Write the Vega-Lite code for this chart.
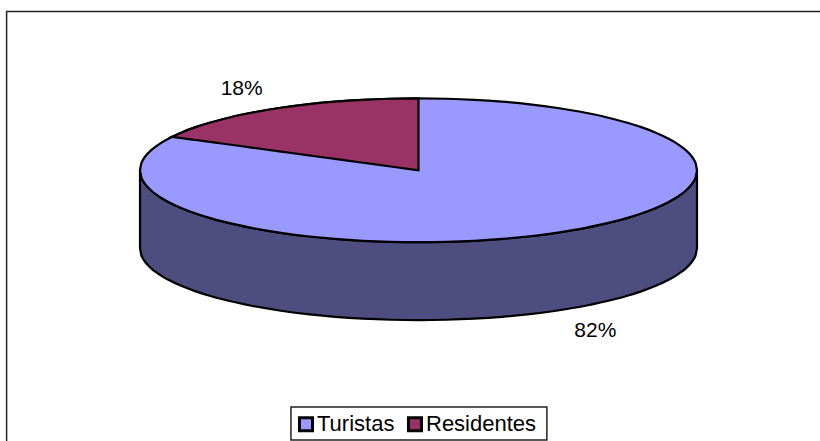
{"$schema":"https://vega.github.io/schema/vega-lite/v6.json","width":820,"height":441,"autosize":{"type":"fit","contains":"padding"},"padding":0,"background":"white","view":{"stroke":null},
"config":{"legend":{"symbolStrokeWidth":3,"symbolStrokeColor":"black"}},
"datasets":{
"frame":[{"x":-147.9,"x2":160,"y":220.8,"y2":-420},{"x":-45.8,"x2":46.1,"y":-329.2,"y2":-375}],
"side":[{"x":-100,"y":0,"y2":-108.3},{"x":-99.5,"y":-10,"y2":-118.3},{"x":-99,"y":-14.1,"y2":-122.4},{"x":-98,"y":-19.9,"y2":-128.2},{"x":-96,"y":-28,"y2":-136.3},{"x":-94,"y":-34.1,"y2":-142.4},{"x":-92,"y":-39.2,"y2":-147.5},{"x":-90,"y":-43.6,"y2":-151.9},{"x":-85,"y":-52.7,"y2":-161},{"x":-80,"y":-60,"y2":-168.3},{"x":-75,"y":-66.1,"y2":-174.4},{"x":-70,"y":-71.4,"y2":-179.7},{"x":-60,"y":-80,"y2":-188.3},{"x":-50,"y":-86.6,"y2":-194.9},{"x":-40,"y":-91.7,"y2":-200},{"x":-30,"y":-95.4,"y2":-203.7},{"x":-20,"y":-98,"y2":-206.3},{"x":-10,"y":-99.5,"y2":-207.8},{"x":0,"y":-100,"y2":-208.3},{"x":10,"y":-99.5,"y2":-207.8},{"x":20,"y":-98,"y2":-206.3},{"x":30,"y":-95.4,"y2":-203.7},{"x":40,"y":-91.7,"y2":-200},{"x":50,"y":-86.6,"y2":-194.9},{"x":60,"y":-80,"y2":-188.3},{"x":70,"y":-71.4,"y2":-179.7},{"x":75,"y":-66.1,"y2":-174.4},{"x":80,"y":-60,"y2":-168.3},{"x":85,"y":-52.7,"y2":-161},{"x":90,"y":-43.6,"y2":-151.9},{"x":92,"y":-39.2,"y2":-147.5},{"x":94,"y":-34.1,"y2":-142.4},{"x":96,"y":-28,"y2":-136.3},{"x":98,"y":-19.9,"y2":-128.2},{"x":99,"y":-14.1,"y2":-122.4},{"x":99.5,"y":-10,"y2":-118.3},{"x":100,"y":0,"y2":-108.3}],
"top":[{"part":"Turistas","x":-100,"y":0,"y2":0},{"part":"Turistas","x":-99.5,"y":10,"y2":-10},{"part":"Turistas","x":-99,"y":14.1,"y2":-14.1},{"part":"Turistas","x":-98,"y":19.9,"y2":-19.9},{"part":"Turistas","x":-96,"y":28,"y2":-28},{"part":"Turistas","x":-94,"y":34.1,"y2":-34.1},{"part":"Turistas","x":-92,"y":39.2,"y2":-39.2},{"part":"Turistas","x":-90,"y":43.6,"y2":-43.6},{"part":"Turistas","x":-85,"y":52.7,"y2":-52.7},{"part":"Turistas","x":-80,"y":60,"y2":-60},{"part":"Turistas","x":-75,"y":66.1,"y2":-66.1},{"part":"Turistas","x":-70,"y":71.4,"y2":-71.4},{"part":"Turistas","x":-60,"y":80,"y2":-80},{"part":"Turistas","x":-50,"y":86.6,"y2":-86.6},{"part":"Turistas","x":-40,"y":91.7,"y2":-91.7},{"part":"Turistas","x":-30,"y":95.4,"y2":-95.4},{"part":"Turistas","x":-20,"y":98,"y2":-98},{"part":"Turistas","x":-10,"y":99.5,"y2":-99.5},{"part":"Turistas","x":0,"y":100,"y2":-100},{"part":"Turistas","x":10,"y":99.5,"y2":-99.5},{"part":"Turistas","x":20,"y":98,"y2":-98},{"part":"Turistas","x":30,"y":95.4,"y2":-95.4},{"part":"Turistas","x":40,"y":91.7,"y2":-91.7},{"part":"Turistas","x":50,"y":86.6,"y2":-86.6},{"part":"Turistas","x":60,"y":80,"y2":-80},{"part":"Turistas","x":70,"y":71.4,"y2":-71.4},{"part":"Turistas","x":75,"y":66.1,"y2":-66.1},{"part":"Turistas","x":80,"y":60,"y2":-60},{"part":"Turistas","x":85,"y":52.7,"y2":-52.7},{"part":"Turistas","x":90,"y":43.6,"y2":-43.6},{"part":"Turistas","x":92,"y":39.2,"y2":-39.2},{"part":"Turistas","x":94,"y":34.1,"y2":-34.1},{"part":"Turistas","x":96,"y":28,"y2":-28},{"part":"Turistas","x":98,"y":19.9,"y2":-19.9},{"part":"Turistas","x":99,"y":14.1,"y2":-14.1},{"part":"Turistas","x":99.5,"y":10,"y2":-10},{"part":"Turistas","x":100,"y":0,"y2":0},
{"part":"Residentes","x":-88.5,"y":46.6,"y2":46.6},{"part":"Residentes","x":-85,"y":52.7,"y2":44.7},{"part":"Residentes","x":-80,"y":60,"y2":42.1},{"part":"Residentes","x":-75,"y":66.1,"y2":39.5},{"part":"Residentes","x":-70,"y":71.4,"y2":36.9},{"part":"Residentes","x":-60,"y":80,"y2":31.6},{"part":"Residentes","x":-50,"y":86.6,"y2":26.3},{"part":"Residentes","x":-40,"y":91.7,"y2":21.1},{"part":"Residentes","x":-30,"y":95.4,"y2":15.8},{"part":"Residentes","x":-20,"y":98,"y2":10.5},{"part":"Residentes","x":-10,"y":99.5,"y2":5.3},{"part":"Residentes","x":0,"y":100,"y2":0}],
"labels":[{"x":-63.5,"y":113,"text":"18%"},{"x":63.5,"y":-223,"text":"82%"}]
},
"encoding":{},
"layer":[
{"data":{"name":"frame"},"mark":{"type":"rect","fill":"white","stroke":"#222222","strokeWidth":1.5,"clip":true},"encoding":{"x":{"field":"x","type":"quantitative","scale":{"domain":[-150.27,144.17],"nice":false,"zero":false},"axis":null},"x2":{"field":"x2"},"y":{"field":"y","type":"quantitative","scale":{"domain":[-376.4,236.8],"nice":false,"zero":false},"axis":null},"y2":{"field":"y2"}}},
{"data":{"name":"side"},"mark":{"type":"area","fill":"#4d4d80","stroke":"black","strokeWidth":2.2,"interpolate":"monotone"},"encoding":{"x":{"field":"x","type":"quantitative"},"y":{"field":"y","type":"quantitative"},"y2":{"field":"y2"}}},
{"data":{"name":"top"},"mark":{"type":"area","stroke":"black","strokeWidth":2.2,"interpolate":"monotone"},"encoding":{"x":{"field":"x","type":"quantitative"},"y":{"field":"y","type":"quantitative"},"y2":{"field":"y2"},"color":{"field":"part","type":"nominal","scale":{"domain":["Turistas","Residentes"],"range":["#9999ff","#993366"]},"legend":{"title":null,"orient":"none","legendX":290,"legendY":408,"direction":"horizontal","columns":2,"padding":5,"symbolType":"square","symbolSize":170,"symbolOpacity":1,"symbolStrokeWidth":3,"labelFont":"Liberation Sans","labelFontSize":22,"labelColor":"black","labelOffset":0,"columnPadding":7,"encode":{"symbols":{"enter":{"stroke":{"value":"black"},"strokeWidth":{"value":3}},"update":{"stroke":{"value":"black"},"strokeWidth":{"value":3}}}}}}}},
{"data":{"name":"labels"},"mark":{"type":"text","font":"Liberation Sans","fontSize":21,"color":"black","align":"center","baseline":"middle"},"encoding":{"x":{"field":"x","type":"quantitative"},"y":{"field":"y","type":"quantitative"},"text":{"field":"text"}}}
]}
